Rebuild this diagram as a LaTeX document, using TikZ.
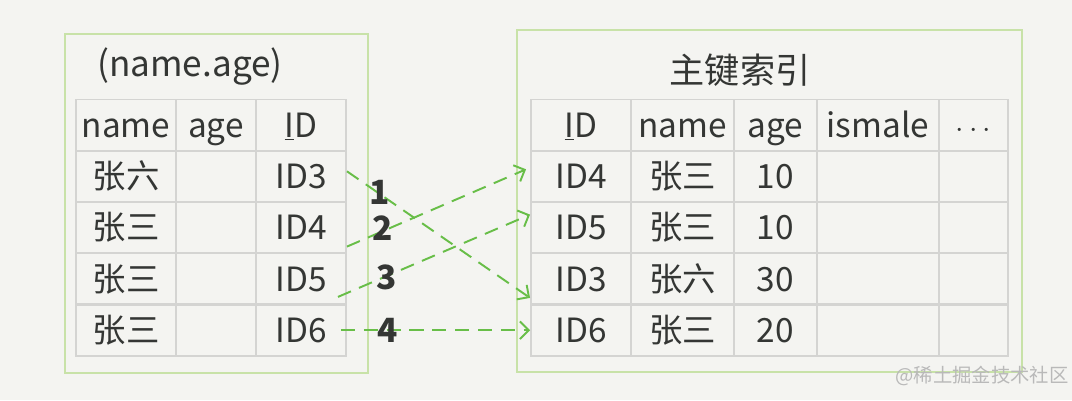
\documentclass[tikz,border=0pt]{standalone}
\usepackage{fontspec}
\setmainfont{Noto Sans CJK SC}
\usetikzlibrary{arrows.meta}

\definecolor{paper}{RGB}{244,244,241}
\definecolor{boxgreen}{RGB}{200,226,168}
\definecolor{gridgray}{RGB}{212,212,210}
\definecolor{ink}{RGB}{52,54,52}
\definecolor{linkgreen}{RGB}{104,190,72}

\tikzset{
  cell/.style={draw=gridgray,line width=1.1pt,minimum height=1.02cm,inner sep=0pt,
    text height=16pt,text depth=2pt,text=ink,font=\fontsize{19}{22}\selectfont},
  frame/.style={draw=boxgreen,line width=1.2pt},
  heading/.style={text=ink,font=\fontsize{20}{24}\selectfont},
  num/.style={text=ink,font=\fontsize{19}{22}\selectfont\bfseries,inner sep=1pt},
  link/.style={draw=linkgreen,line width=1.1pt,dash pattern=on 8pt off 5pt,
    -{Straight Barb[length=5pt,width=10pt]}}
}

\begin{document}
\begin{tikzpicture}[x=0.02cm,y=-0.02cm]
\fill[paper] (0,0) rectangle (1072,400);
\path[use as bounding box] (0,0) rectangle (1072,400);

% outer boxes
\draw[frame] (65,34) rectangle (368,373);
\draw[frame] (517,30) rectangle (1022,372);

% index (name,age)
\node[heading] (ltitle) at (190,67) {(name.age)};
\foreach \txt/\cx/\w [count=\c] in {name/126/2, age/216/1.6, {\underline{I}D}/301/1.8}{
  \node[cell,minimum width=\w cm] (lhead\c) at (\cx,125) {\txt};
}
\foreach \nm/\id [count=\r] in {张六/ID3, 张三/ID4, 张三/ID5, 张三/ID6}{
  \pgfmathsetmacro\cy{125+51.3*\r}
  \node[cell,minimum width=2cm] (lname\r) at (126,\cy) {\nm};
  \node[cell,minimum width=1.6cm] (lage\r) at (216,\cy) {};
  \node[cell,minimum width=1.8cm] (lid\r) at (301,\cy) {\id};
}

% primary key index
\node[heading] (rtitle) at (740,70) {主键索引};
\foreach \txt/\cx/\w [count=\c] in {{\underline{I}D}/581/2, name/682.5/2.06, age/775.5/1.66, ismale/878/2.44, {$\cdots$}/973.5/1.38}{
  \node[cell,minimum width=\w cm] (rhead\c) at (\cx,125) {\txt};
}
\foreach \id/\nm/\ag [count=\r] in {ID4/张三/10, ID5/张三/10, ID3/张六/30, ID6/张三/20}{
  \pgfmathsetmacro\cy{125+51.3*\r}
  \node[cell,minimum width=2cm] (rid\r) at (581,\cy) {\id};
  \node[cell,minimum width=2.06cm] (rname\r) at (682.5,\cy) {\nm};
  \node[cell,minimum width=1.66cm] (rage\r) at (775.5,\cy) {\ag};
  \node[cell,minimum width=2.44cm] (rmale\r) at (878,\cy) {};
  \node[cell,minimum width=1.38cm] (rmore\r) at (973.5,\cy) {};
}

% lookups back to the primary key
\draw[link] ([yshift=0.1cm]lid1.east) -- ([yshift=-0.38cm]rid3.west);
\draw[link] ([yshift=-0.38cm]lid2.east) -- ([xshift=-0.08cm,yshift=0.14cm]rid1.west);
\draw[link] ([xshift=-0.18cm,yshift=-0.36cm]lid3.east) -- ([yshift=0.26cm]rid2.west);
\draw[link] ([xshift=-0.12cm]lid4.east) -- (rid4.west);

\node[num] (n1) at (380,192) {1};
\node[num] (n2) at (383,228) {2};
\node[num] (n3) at (387,277) {3};
\node[num] (n4) at (388,330) {4};

\node[text=gray!55,font=\fontsize{11}{13}\selectfont] (mark) at (982,376) {@稀土掘金技术社区};
\end{tikzpicture}
\end{document}
